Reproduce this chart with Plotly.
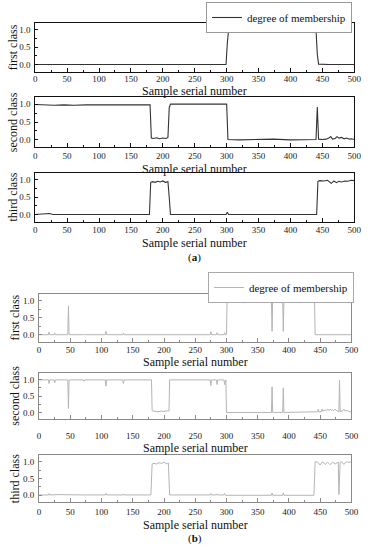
import plotly.graph_objects as go

# ---------------- data ----------------
# panel (a)
a_first_x = [0, 30, 60, 100, 150, 190, 200, 208, 215, 250, 290, 299, 301, 303, 315, 330, 345, 360, 370, 373, 376, 390, 405, 420, 435, 440, 442, 444, 460, 480, 500]
a_first_y = [0.0, 0.0, 0.0, 0.0, 0.0, 0.005, 0.015, 0.01, 0.0, 0.0, 0.0, 0.0, 0.6, 0.99, 0.98, 0.99, 0.98, 0.99, 0.98, 0.95, 0.98, 0.99, 0.98, 0.99, 0.98, 0.99, 0.3, 0.01, 0.0, 0.0, 0.0]

a_second_x = [0, 10, 20, 30, 45, 60, 80, 100, 120, 140, 160, 180, 182, 185, 190, 195, 200, 205, 208, 210, 212, 240, 270, 300, 302, 320, 350, 373, 400, 430, 440, 442, 444, 450, 456, 460, 463, 466, 470, 473, 476, 480, 484, 488, 492, 496, 500]
a_second_y = [0.99, 0.98, 0.96, 0.97, 0.98, 0.97, 0.98, 0.98, 0.99, 0.98, 0.98, 0.98, 0.05, 0.04, 0.06, 0.03, 0.05, 0.04, 0.07, 0.9, 1.0, 0.99, 1.0, 1.0, 0.01, 0.0, 0.01, 0.02, 0.0, 0.01, 0.01, 0.92, 0.02, 0.01, 0.02, 0.05, 0.09, 0.02, 0.04, 0.09, 0.05, 0.07, 0.03, 0.05, 0.02, 0.03, 0.01]

a_third_x = [0, 15, 22, 28, 60, 100, 150, 179, 181, 184, 188, 192, 196, 200, 204, 208, 210, 212, 250, 299, 301, 303, 350, 400, 441, 443, 446, 452, 458, 464, 468, 472, 476, 480, 485, 490, 495, 500]
a_third_y = [0.0, 0.01, 0.03, 0.0, 0.0, 0.0, 0.0, 0.0, 0.93, 0.95, 0.93, 0.96, 0.94, 0.97, 0.93, 0.95, 0.5, 0.0, 0.0, 0.0, 0.07, 0.0, 0.0, 0.0, 0.0, 0.96, 0.98, 0.97, 0.99, 0.9, 0.97, 0.92, 0.96, 0.94, 0.97, 0.96, 0.99, 0.98]

# panel (b)
b_first_x = [0, 15, 16, 17, 24, 25, 26, 46, 47, 48, 71, 72, 73, 106, 107, 108, 134, 135, 136, 274, 275, 276, 284, 285, 286, 296, 297, 298, 300, 301, 372, 373, 374, 390, 391, 392, 441, 442, 500]
b_first_y = [0.0, 0.0, 0.08, 0.0, 0.0, 0.05, 0.0, 0.0, 0.85, 0.0, 0.0, 0.02, 0.0, 0.0, 0.1, 0.0, 0.0, 0.05, 0.0, 0.0, 0.09, 0.0, 0.0, 0.06, 0.0, 0.0, 0.06, 0.0, 0.0, 1.0, 1.0, 0.1, 1.0, 1.0, 0.1, 1.0, 1.0, 0.0, 0.0]

b_second_x = [0, 15, 16, 17, 24, 25, 26, 46, 47, 48, 71, 72, 73, 106, 107, 108, 134, 135, 136, 180, 181, 185, 190, 195, 200, 205, 208, 209, 274, 275, 276, 284, 285, 286, 296, 297, 298, 299, 300, 340, 372, 373, 374, 390, 391, 392, 440, 446, 447, 448, 452, 453, 454, 458, 460, 462, 465, 466, 468, 470, 472, 474, 476, 480, 481, 482, 486, 488, 490, 494, 496, 500]
b_second_y = [0.99, 0.99, 0.88, 0.99, 0.99, 0.9, 0.99, 0.99, 0.12, 0.99, 0.99, 0.95, 0.99, 0.99, 0.8, 0.99, 0.99, 0.88, 0.99, 0.99, 0.05, 0.04, 0.02, 0.04, 0.03, 0.05, 0.04, 0.99, 0.99, 0.82, 0.99, 0.99, 0.85, 0.99, 0.99, 0.85, 0.99, 0.99, 0.0, 0.01, 0.0, 0.78, 0.0, 0.0, 0.75, 0.0, 0.0, 0.02, 0.1, 0.01, 0.03, 0.1, 0.04, 0.08, 0.05, 0.1, 0.06, 0.1, 0.07, 0.08, 0.05, 0.1, 0.06, 0.02, 0.98, 0.03, 0.05, 0.1, 0.04, 0.06, 0.02, 0.02]

b_third_x = [0, 15, 16, 17, 30, 50, 72, 73, 106, 107, 108, 134, 135, 136, 179, 181, 184, 188, 192, 196, 200, 204, 207, 209, 274, 275, 276, 284, 285, 286, 296, 297, 298, 372, 373, 374, 390, 391, 392, 440, 442, 446, 450, 454, 458, 462, 466, 470, 474, 478, 479, 480, 482, 484, 488, 492, 496, 500]
b_third_y = [0.01, 0.01, 0.05, 0.01, 0.02, 0.01, 0.02, 0.01, 0.01, 0.06, 0.01, 0.01, 0.04, 0.01, 0.01, 0.93, 0.95, 0.93, 0.97, 0.95, 0.98, 0.94, 0.96, 0.01, 0.01, 0.05, 0.01, 0.01, 0.04, 0.01, 0.01, 0.05, 0.0, 0.0, 0.07, 0.0, 0.0, 0.07, 0.0, 0.0, 1.0, 0.99, 0.9, 1.0, 0.92, 0.99, 0.91, 0.99, 0.93, 1.0, 0.99, 0.02, 0.99, 1.0, 0.92, 1.0, 0.98, 1.0]

series_label = "degree of membership"
class_names = ["first class", "second class", "third class"]
x_title = "Sample serial number"
x_ticks = [0, 50, 100, 150, 200, 250, 300, 350, 400, 450, 500]
y_ticks = [0.0, 0.5, 1.0]

# ---------------- layout helpers ----------------
W, H = 374, 550
FONT = "Liberation Serif"

# (left, right, top, bottom) in pixels for each subplot
boxes = [
    (34, 361, 22.5, 71.5),
    (34, 361, 97, 147),
    (34, 361, 173, 221.5),
    (38, 358, 294, 341.5),
    (38, 358, 373, 419),
    (38, 358, 455, 502),
]
xlabel_standoff = [-1, 0, 0, 0, 8, 1]
xtitle_y = [90.5, 169.5, 242.5, 362, 448, 525]
panel_dark = "#333333"
panel_light = "#b4b4b4"

data_x = [a_first_x, a_second_x, a_third_x, b_first_x, b_second_x, b_third_x]
data_y = [a_first_y, a_second_y, a_third_y, b_first_y, b_second_y, b_third_y]

fig = go.Figure()
layout = dict(
    width=W, height=H,
    margin=dict(l=0, r=0, t=0, b=0),
    paper_bgcolor="white", plot_bgcolor="white",
    font=dict(family=FONT, color="#222", size=10),
    annotations=[],
)

for i in range(6):
    l, r, t, b = boxes[i]
    n = "" if i == 0 else str(i + 1)
    dark = i < 3
    line_col = panel_dark if dark else panel_light
    frame_col = "#111" if dark else "#8a8a8a"
    fig.add_trace(go.Scatter(
        x=data_x[i], y=data_y[i], mode="lines",
        line=dict(color=line_col, width=1.1 if dark else 1),
        name=series_label,
        showlegend=(i == 0 or i == 3),
        legend="legend" if dark else "legend2",
        xaxis="x" + n, yaxis="y" + n,
    ))
    layout["xaxis" + n] = dict(
        domain=[l / W, r / W], anchor="y" + n,
        range=[0, 500], tickvals=x_ticks,
        ticks="inside", ticklen=4, tickwidth=1, tickcolor=frame_col,
        minor=dict(ticks="inside", dtick=25, ticklen=2, tickcolor=frame_col),
        showline=True, linecolor=frame_col, linewidth=1, mirror=True,
        showgrid=False, zeroline=False,
        tickfont=dict(family=FONT, size=9, color="#222"),
        ticklabelstandoff=xlabel_standoff[i],
        fixedrange=True,
    )
    layout["yaxis" + n] = dict(
        domain=[1 - b / H, 1 - t / H], anchor="x" + n,
        range=[-0.2, 1.2], tickvals=y_ticks, tickformat=".1f",
        ticks="inside", ticklen=3, tickwidth=1, tickcolor=frame_col,
        minor=dict(ticks="inside", dtick=0.25, ticklen=2, tickcolor=frame_col),
        showline=True, linecolor=frame_col, linewidth=1, mirror=True,
        showgrid=False, zeroline=False,
        tickfont=dict(family=FONT, size=9, color="#222"),
        ticklabelstandoff=2,
        fixedrange=True,
    )
    # x-axis title
    layout["annotations"].append(dict(
        text=x_title, xref="paper", yref="paper",
        x=((l + r) / 2) / W, y=1 - xtitle_y[i] / H,
        xanchor="center", yanchor="middle", showarrow=False,
        font=dict(family=FONT, size=12, color="#111"),
    ))
    # y-axis title
    layout["annotations"].append(dict(
        text=class_names[i % 3], xref="paper", yref="paper",
        x=(11.5 if dark else 13) / W, y=1 - ((t + b) / 2) / H,
        xanchor="center", yanchor="middle", showarrow=False, textangle=-90,
        font=dict(family=FONT, size=12, color="#111"),
    ))

# panel captions
layout["annotations"].append(dict(
    text="(<b>a</b>)", xref="paper", yref="paper", x=(197.5) / W, y=1 - 257 / H,
    xanchor="center", yanchor="middle", showarrow=False,
    font=dict(family=FONT, size=11, color="#111")))
layout["annotations"].append(dict(
    text="(<b>b</b>)", xref="paper", yref="paper", x=(198) / W, y=1 - 538 / H,
    xanchor="center", yanchor="middle", showarrow=False,
    font=dict(family=FONT, size=11, color="#111")))

legend_common = dict(
    xanchor="left", yanchor="top", bgcolor="white",
    borderwidth=1, itemwidth=30, tracegroupgap=0,
    font=dict(family=FONT, size=11, color="#111"),
)
layout["legend"] = dict(x=209 / W, y=1 - 2 / H, bordercolor="#999", **legend_common)
layout["legend2"] = dict(x=211 / W, y=1 - 272 / H, bordercolor="#aaa", **legend_common)

fig.update_layout(**layout)
fig.write_html("out.html",
               config={"displayModeBar": False},
               post_script="document.body.style.margin='0';document.body.style.padding='0';")
